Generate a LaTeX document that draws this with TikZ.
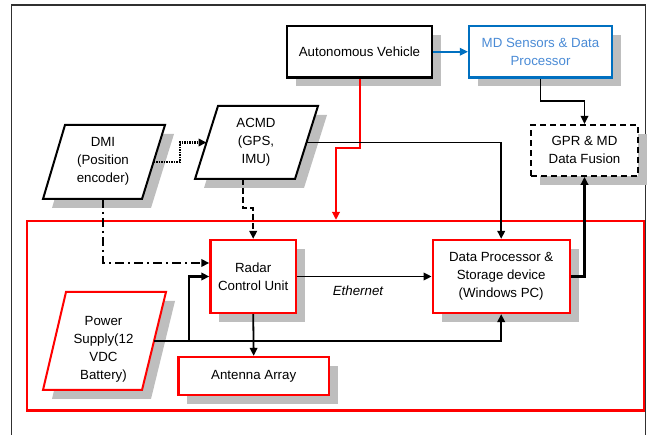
\documentclass[tikz,border=0pt]{standalone}
\usepackage{fontspec}
\setmainfont{Liberation Sans}
\usetikzlibrary{arrows.meta,shadows}

\definecolor{frameRed}{HTML}{FF0000}
\definecolor{mdBlue}{HTML}{0070C0}
\definecolor{mdText}{HTML}{4A8BD6}
\definecolor{shadegray}{HTML}{BEBEBE}
\definecolor{frameGray}{HTML}{303030}

\begin{document}
\begin{tikzpicture}[x=1pt,y=-1pt,
  txt/.style={font=\fontsize{13.3}{18}\selectfont, align=center, inner sep=0pt},
  boxshadow/.style={drop shadow={shadow xshift=9pt, shadow yshift=-9pt, fill=shadegray, opacity=1}},
  blk/.style={rectangle, draw, line width=2.2pt, fill=white, boxshadow, txt},
  redblk/.style={blk, draw=frameRed},
  slant/.style={draw, line width=2pt, fill=white, boxshadow},
  tip/.style={-{Triangle[length=8pt,width=7.5pt]}},
  wire/.style={line width=1.8pt, tip},
  powerwire/.style={line width=2.4pt, tip},
]
\useasboundingbox (0,0) rectangle (649,435);

% outer page frame (open at the bottom)
\draw[frameGray, line width=1.5pt] (11.7,437) -- (11.7,5) -- (645.5,5) -- (645.5,437);

% radar system enclosure
\node[draw=frameRed, line width=2.2pt, inner sep=0pt,
      minimum width=617pt, minimum height=189.5pt] (sys) at (335.5,315.75) {};

% top row
\node[blk, minimum width=145pt, minimum height=51.5pt] (av) at (359.5,51.75) {Autonomous Vehicle};
\node[blk, draw=mdBlue, text=mdText, minimum width=143pt, minimum height=51.5pt] (md) at (540.5,51.75) {MD Sensors \& Data\\Processor};
\node[blk, dashed, dash pattern=on 6pt off 4pt, minimum width=107pt, minimum height=50.7pt] (gpr) at (584.5,150.4) {GPR \& MD\\Data Fusion};

% slanted input/output blocks
\path[slant] (65,125) -- (165,125) -- (142,199) -- (43,199) -- cycle;
\node[txt] (dmi) at (103,161) {DMI\\(Position\\encoder)};
\coordinate (dmi-e) at (153.5,162);
\coordinate (dmi-s) at (103,199);

\path[slant] (218,106) -- (318,106) -- (295,179) -- (195,179) -- cycle;
\node[txt] (acmd) at (256,142) {ACMD\\(GPS,\\IMU)};
\coordinate (acmd-w) at (206.5,142.5);
\coordinate (acmd-e) at (306.5,142.5);
\coordinate (acmd-s) at (243,179);

\path[slant, draw=frameRed] (66,292) -- (166,292) -- (142,390) -- (43,390) -- cycle;
\node[txt] (psu) at (103.5,349.5) {Power\\Supply(12\\VDC\\Battery)};
\coordinate (psu-e) at (154,341);

% units inside the enclosure
\node[redblk, minimum width=85.6pt, minimum height=73pt] (radar) at (253.2,276.5) {Radar\\Control Unit};
\node[redblk, minimum width=137pt, minimum height=73pt] (dp) at (501.2,276.5) {Data Processor \&\\Storage device\\(Windows PC)};
\node[redblk, minimum width=150.6pt, minimum height=38pt] (ant) at (253.7,376) {Antenna Array};

% connectors
\draw[wire, mdBlue] (av.east) -- (md.west);
\draw[wire] (md.south) -- ++(0,22.5) -| (gpr.north);

\coordinate (redknee) at (336,148);
\draw[line width=2pt, draw=frameRed, tip] (av.south) |- (redknee) -- (redknee |- sys.north);

\draw[wire] (acmd-e) -| (dp.north);

\coordinate (dotknee) at (180,142.5);
\draw[line width=2.2pt, dash pattern=on 1.5pt off 1pt, tip] (dmi-e) -| (dotknee) -- (acmd-w);

\coordinate (dashknee) at (243,208);
\draw[line width=2.2pt, dash pattern=on 6pt off 3pt, tip] (acmd-s) -- (dashknee) -| (radar.north);

\coordinate (ddknee) at (103,263);
\draw[line width=1.8pt, dash pattern=on 9pt off 4pt on 2pt off 4pt, tip] (dmi-s) -- (ddknee) -- (ddknee -| radar.west);

\draw[wire] (radar.east) -- (dp.west);
\node[txt, font=\fontsize{13.3}{18}\selectfont\itshape] (eth) at (358,291) {Ethernet};
\draw[wire] (radar.south) -- (ant.north);
\draw[powerwire] (dp.east) -| (gpr.south);

\coordinate (pwrsplit) at (189,341);
\draw[powerwire] (psu-e) -- (pwrsplit) -| (dp.south);
\draw[powerwire] (pwrsplit) |- (radar.west);
\end{tikzpicture}
\end{document}
